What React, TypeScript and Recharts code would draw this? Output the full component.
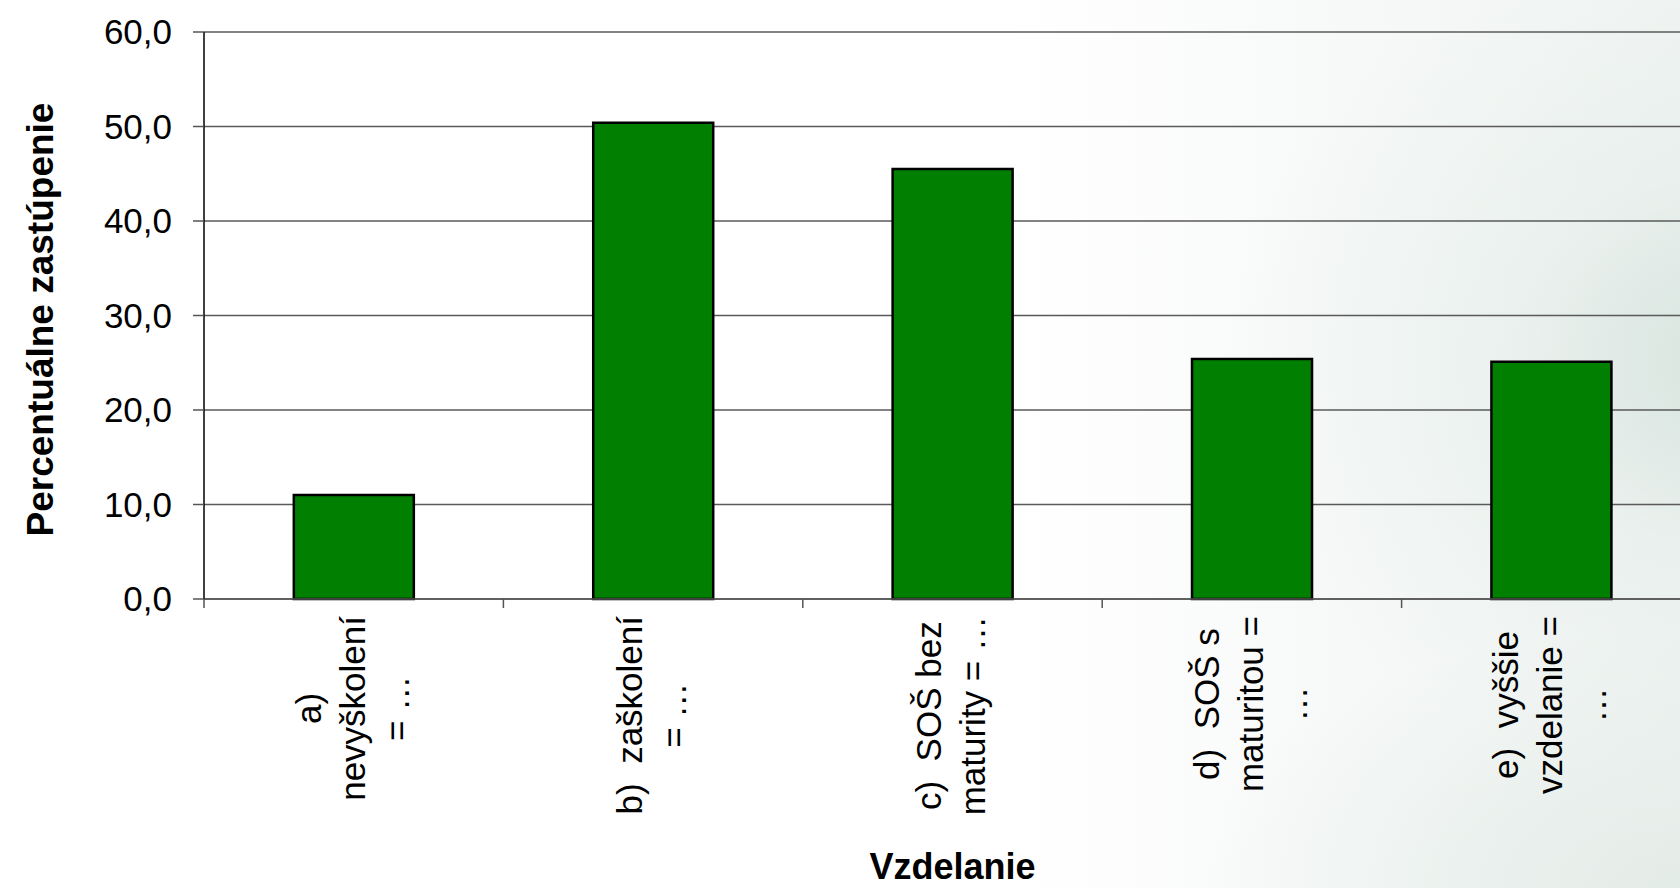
import React from "react";
import { BarChart, Bar, XAxis, YAxis, CartesianGrid } from "recharts";

const categories: string[] = [
  "a)\nnevyškolení\n= …",
  "b)  zaškolení\n= …",
  "c)  SOŠ bez\nmaturity = …",
  "d)  SOŠ s\nmaturitou =\n…",
  "e)  vyššie\nvzdelanie =\n…",
];
const values: number[] = [11.0, 50.4, 45.5, 25.4, 25.1];
const yTicks: number[] = [0, 10, 20, 30, 40, 50, 60];
const yTitle = "Percentuálne zastúpenie";
const xTitle = "Vzdelanie";

const data = categories.map((c, i) => ({ cat: c, value: values[i] }));

const FONT = "'Liberation Sans', Arial, sans-serif";
const CHART_W = 1720;
const CHART_H = 888;
const MARGIN = { top: 32, right: 19, bottom: 0, left: 0 };
const Y_AXIS_W = 204;
const X_AXIS_H = 289;
const PLOT_W = CHART_W - MARGIN.left - MARGIN.right - Y_AXIS_W;
const BAND = PLOT_W / categories.length;
const AXIS_Y = CHART_H - MARGIN.bottom - X_AXIS_H;
const TICK_FS = 35;
const LINE_H = 44;

let ctx: CanvasRenderingContext2D | null = null;
function measure(s: string): number {
  if (!ctx) {
    const c = document.createElement("canvas");
    ctx = c.getContext("2d");
  }
  if (!ctx) return s.length * TICK_FS * 0.5;
  ctx.font = `${TICK_FS}px 'Liberation Sans', Arial, sans-serif`;
  return ctx.measureText(s).width;
}

const XTick = (props: any) => {
  const { x, payload } = props;
  const lines: string[] = String(payload.value).split("\n");
  const n = lines.length;
  const maxW = Math.max(...lines.map(measure));
  const cy = AXIS_Y + 17 + maxW / 2;
  const left = x - BAND / 2;
  return (
    <g>
      <line x1={left} y1={AXIS_Y} x2={left} y2={AXIS_Y + 9} stroke="#555" strokeWidth={1.5} />
      {lines.map((ln, i) => {
        const bx = x + (i - (n - 1) / 2) * LINE_H + 11;
        return (
          <text
            key={i}
            x={bx}
            y={cy}
            transform={`rotate(-90, ${bx}, ${cy})`}
            textAnchor="middle"
            fontFamily={FONT}
            fontSize={TICK_FS}
            fill="#000"
            style={{ whiteSpace: "pre" }}
          >
            {ln}
          </text>
        );
      })}
    </g>
  );
};

const YTitle = (props: any) => {
  const vb = props.viewBox || {};
  const cx = 40;
  const cy = vb.y + vb.height / 2 + 4;
  return (
    <text
      x={cx}
      y={cy}
      transform={`rotate(-90, ${cx}, ${cy})`}
      textAnchor="middle"
      dominantBaseline="central"
      fontFamily={FONT}
      fontSize={37}
      fontWeight="bold"
      fill="#000"
    >
      {yTitle}
    </text>
  );
};

const XTitle = (props: any) => {
  return (
    <text
      x={MARGIN.left + Y_AXIS_W + PLOT_W / 2}
      y={879}
      textAnchor="middle"
      fontFamily={FONT}
      fontSize={36}
      fontWeight="bold"
      fill="#000"
    >
      {xTitle}
    </text>
  );
};

export default function App() {
  return (
    <div
      style={{
        position: "absolute",
        left: 0,
        top: 0,
        width: 1680,
        height: 888,
        overflow: "hidden",
        background:
          "radial-gradient(ellipse 520px 420px at 1740px 360px, rgba(210,224,218,0.85) 0%, rgba(228,237,233,0.55) 45%, rgba(255,255,255,0) 100%), radial-gradient(ellipse 500px 260px at 1680px 888px, rgba(222,232,227,0.7) 0%, rgba(255,255,255,0) 100%), linear-gradient(to right, #ffffff 0%, #ffffff 60%, #f7f9f8 80%, #f0f4f2 100%)",
      }}
    >
      <BarChart
        width={CHART_W}
        height={CHART_H}
        data={data}
        margin={MARGIN}
        barCategoryGap="30%"
      >
        <CartesianGrid vertical={false} stroke="#5a5a5a" strokeWidth={1.5} />
        <XAxis
          dataKey="cat"
          height={X_AXIS_H}
          interval={0}
          tickLine={false}
          axisLine={{ stroke: "#555", strokeWidth: 1.5 }}
          tick={<XTick />}
          label={{ value: xTitle, content: <XTitle /> }}
        />
        <YAxis
          width={Y_AXIS_W}
          domain={[0, 60]}
          ticks={yTicks}
          interval={0}
          tickSize={11}
          tickMargin={21}
          tickLine={{ stroke: "#555", strokeWidth: 1.5 }}
          axisLine={{ stroke: "#000", strokeWidth: 1.5 }}
          tickFormatter={(v: number) => v.toFixed(1).replace(".", ",")}
          tick={{ fontFamily: FONT, fontSize: TICK_FS, fill: "#000" }}
          label={{ value: yTitle, content: <YTitle /> }}
        />
        <Bar
          dataKey="value"
          fill="#007f00"
          stroke="#000"
          strokeWidth={2.5}
          isAnimationActive={false}
        />
      </BarChart>
    </div>
  );
}
